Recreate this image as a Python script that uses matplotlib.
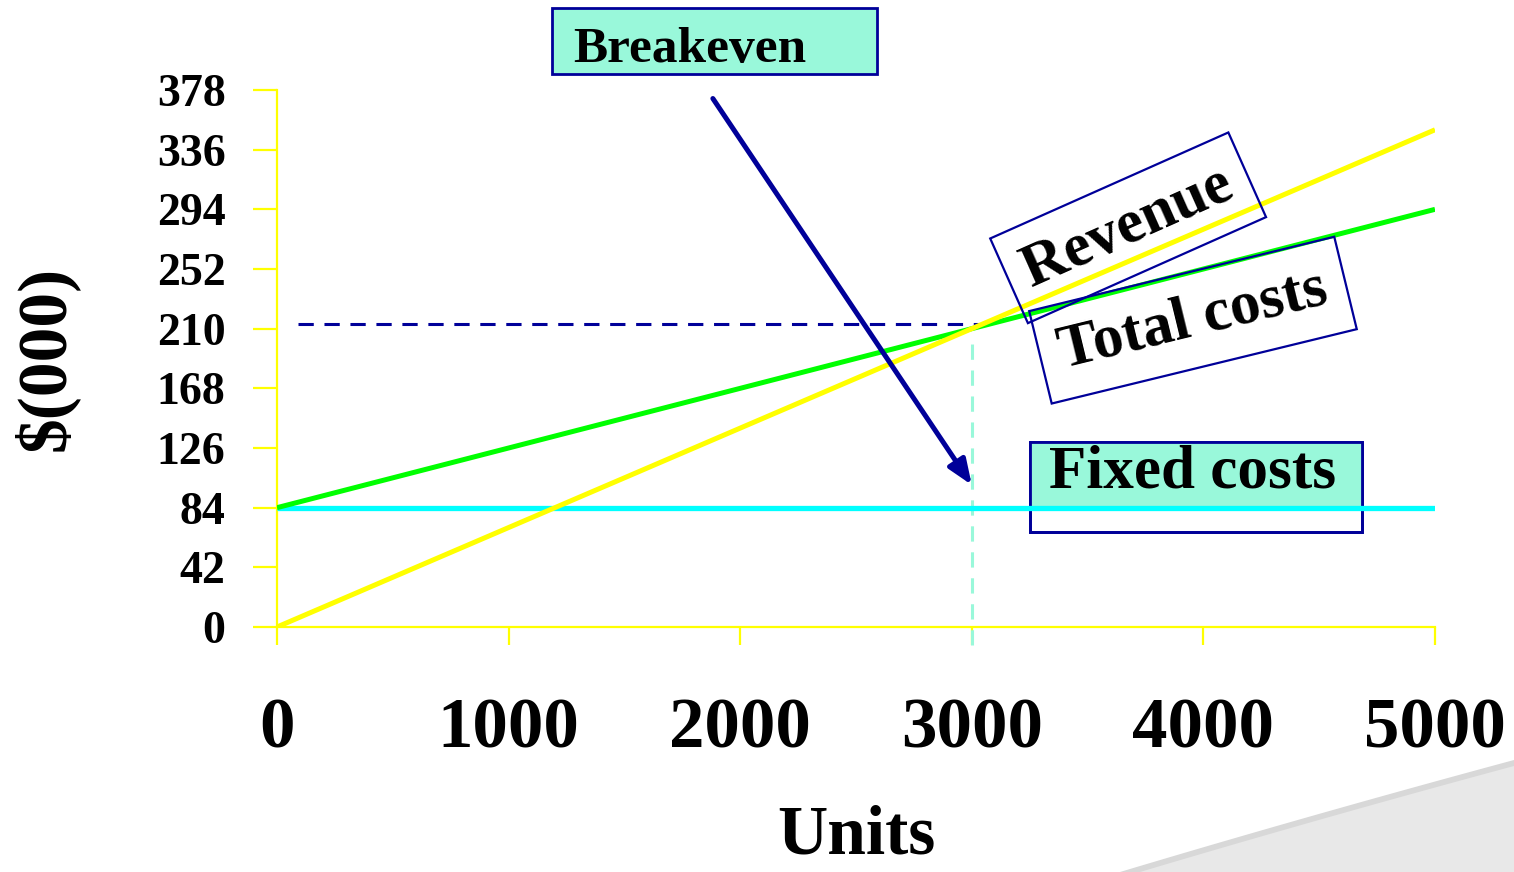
import matplotlib
matplotlib.use("Agg")
import matplotlib.pyplot as plt
from matplotlib.patches import Rectangle, Polygon
import numpy as np

# Breakeven model, values in $000
units = [0, 1000, 2000, 3000, 4000, 5000]
revenue = [0, 70, 140, 210, 280, 350]
total_costs = [84, 126, 168, 210, 252, 294]
fixed_costs = [84, 84, 84, 84, 84, 84]
y_ticks = [0, 42, 84, 126, 168, 210, 252, 294, 336, 378]
x_ticks = [0, 1000, 2000, 3000, 4000, 5000]
breakeven_units = 3000
breakeven_value = 210

NAVY = "#000099"
TEAL = "#99f8da"

plt.rcParams["font.family"] = ["Liberation Serif", "DejaVu Serif"]
plt.rcParams["font.weight"] = "bold"

W, H = 1514, 872
fig = plt.figure(figsize=(W / 100, H / 100), dpi=100)
fig.patch.set_facecolor("white")

# decorative grey sweep in the lower right corner
t = np.linspace(0, 1, 60)
p0, p1, p2 = np.array([1120, 872]), np.array([1310, 815]), np.array([1514, 760])
curve = ((1 - t) ** 2)[:, None] * p0 + (2 * (1 - t) * t)[:, None] * p1 + (t ** 2)[:, None] * p2
shade = np.vstack([curve, [[1514, 872]]])
fig.patches.append(Polygon(np.column_stack([shade[:, 0] / W, 1 - shade[:, 1] / H]),
                           closed=True, transform=fig.transFigure,
                           facecolor="#d8d8d8", edgecolor="none", zorder=0))
inner = curve + np.array([0, 6])
shade2 = np.vstack([inner, [[1514, 872]]])
fig.patches.append(Polygon(np.column_stack([shade2[:, 0] / W, 1 - shade2[:, 1] / H]),
                           closed=True, transform=fig.transFigure,
                           facecolor="#e8e8e8", edgecolor="none", zorder=0))

ax = fig.add_axes([277 / W, 1 - 627 / H, 1158 / W, 537 / H])
ax.patch.set_alpha(0)
ax.set_xlim(0, 5000)
ax.set_ylim(0, 378)

for side in ("top", "right"):
    ax.spines[side].set_visible(False)
for side in ("left", "bottom"):
    ax.spines[side].set_color("#ffff00")
    ax.spines[side].set_linewidth(1.6)

ax.set_yticks(y_ticks)
ax.set_xticks(x_ticks)
ax.set_yticklabels([str(v) for v in y_ticks])
ax.set_xticklabels([str(v) for v in x_ticks])
ax.tick_params(axis="y", length=17, width=1.6, color="#ffff00", pad=20,
               labelsize=33, direction="out")
ax.tick_params(axis="x", length=13, width=1.6, color="#ffff00", pad=38,
               labelsize=51, direction="out")
for lab in ax.get_xticklabels() + ax.get_yticklabels():
    lab.set_fontweight("bold")

ax.set_xlabel("Units", fontsize=50, fontweight="bold", labelpad=30)
ax.set_ylabel("$(000)", fontsize=50, fontweight="bold", labelpad=56)

# Fixed costs label box (filled only above the fixed-cost line)
fx0, fx1, fy0, fy1 = 3251, 4685, 67, 130
ax.add_patch(Rectangle((fx0, fy0), fx1 - fx0, fy1 - fy0, facecolor="white",
                       edgecolor=NAVY, linewidth=2, zorder=2))
ax.add_patch(Rectangle((fx0, fixed_costs[0]), fx1 - fx0, fy1 - fixed_costs[0],
                       facecolor=TEAL, edgecolor="none", zorder=2.1))
ax.add_patch(Rectangle((fx0, fy0), fx1 - fx0, fy1 - fy0, facecolor="none",
                       edgecolor=NAVY, linewidth=2, zorder=2.2))
ax.text(3955, 109, "Fixed costs", fontsize=44, fontweight="bold",
        ha="center", va="center", zorder=5)

# breakeven guide lines
ax.plot([90, breakeven_units + 30], [breakeven_value + 3, breakeven_value + 3],
        color=NAVY, linewidth=2.2, dashes=(5, 3.5), zorder=3)
ax.plot([breakeven_units, breakeven_units], [-13, 200], color=TEAL,
        linewidth=2.2, dashes=(5, 3.5), zorder=3, clip_on=False)

# cost and revenue lines
ax.plot(units, fixed_costs, color="#00ffff", linewidth=3.8, zorder=4,
        solid_capstyle="butt")
ax.plot(units, total_costs, color="#00ff00", linewidth=3.6, zorder=4,
        solid_capstyle="butt")
ax.plot(units, revenue, color="#ffff00", linewidth=3.6, zorder=4,
        solid_capstyle="butt")

# rotated line labels
ax.text(3675, 281, "Revenue", fontsize=44, fontweight="bold", rotation=24,
        rotation_mode="anchor", ha="center", va="center", zorder=5,
        bbox=dict(boxstyle="square,pad=0.3", facecolor="none",
                  edgecolor=NAVY, linewidth=1.6))
ax.text(3955, 216, "Total costs", fontsize=44, fontweight="bold", rotation=13.7,
        rotation_mode="anchor", ha="center", va="center", zorder=5,
        bbox=dict(boxstyle="square,pad=0.32", facecolor="none",
                  edgecolor=NAVY, linewidth=1.6))

# Breakeven callout
bx0, bx1, by0, by1 = 1187, 2591, 389, 436
ax.add_patch(Rectangle((bx0, by0), bx1 - bx0, by1 - by0, facecolor=TEAL,
                       edgecolor=NAVY, linewidth=2, zorder=5, clip_on=False))
ax.text(1278, 397.5, "Breakeven", fontsize=37, fontweight="bold",
        ha="left", va="baseline", zorder=6, clip_on=False)
ax.annotate("", xy=(breakeven_units, 100), xytext=(1882, 372),
            arrowprops=dict(arrowstyle="-|>,head_length=1.5,head_width=0.6",
                            color=NAVY, linewidth=3.6, shrinkA=0, shrinkB=0),
            zorder=6, annotation_clip=False)

fig.savefig("out.png", dpi=100)
